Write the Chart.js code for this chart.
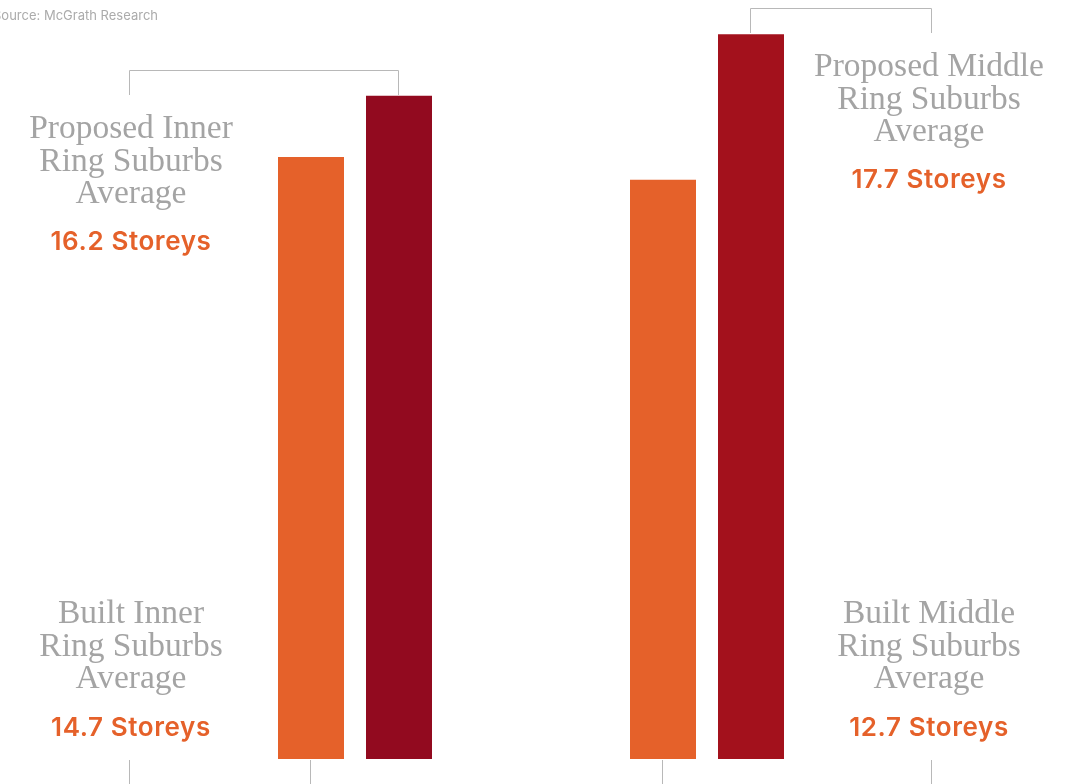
<!DOCTYPE html>
<html>
<head>
<meta charset="utf-8">
<script src="https://cdn.jsdelivr.net/npm/chart.js@4"></script>
<style>
  body { margin: 0; background: #fff; }
  #wrap { width: 1071px; height: 784px; position: relative; }
</style>
</head>
<body>
<div id="wrap"><canvas id="myChart"></canvas></div>
<script>
const categories = ['Inner Ring Suburbs', 'Middle Ring Suburbs'];

// bar heights as drawn in the picture (the middle ring built bar is drawn taller than its 12.7 label)
const builtBars = [14.7, 14.15];
const proposedBars = [16.2, 17.7];

// storey figures printed in the labels
const builtStoreys = ['14.7', '12.7'];
const proposedStoreys = ['16.2', '17.7'];

const builtTitles = [
    ['Built Inner', 'Ring Suburbs', 'Average'],
    ['Built Middle', 'Ring Suburbs', 'Average']
];
const proposedTitles = [
    ['Proposed Inner', 'Ring Suburbs', 'Average'],
    ['Proposed Middle', 'Ring Suburbs', 'Average']
];

const orange = '#e5612a';
const darkRed = '#920a1f';
const grey = '#a4a4a4';
const lineGrey = '#b8b8b8';

// where the text blocks and their bracket legs sit, per category
const textX = [131, 929];
const legX = [130, 932];

const annotations = {
    id: 'annotations',
    afterDraw(chart) {
        const ctx = chart.ctx;
        const built = chart.getDatasetMeta(0).data;
        const proposed = chart.getDatasetMeta(1).data;

        ctx.save();
        ctx.textAlign = 'right';
        ctx.fillStyle = '#ababab';
        ctx.font = '13px Inter';
        ctx.fillText('Source: McGrath Research', 158, 20);

        for (let i = 0; i < categories.length; i++) {
            const tx = textX[i];
            const lx = legX[i] - 0.5;
            const p = proposed[i];
            const b = built[i];
            const top = Math.round(p.y);

            // top bracket: label -> proposed bar
            ctx.strokeStyle = lineGrey;
            ctx.lineWidth = 1;
            ctx.beginPath();
            ctx.moveTo(lx, top - 1);
            ctx.lineTo(lx, top - 25.5);
            ctx.lineTo(Math.round(p.x) - 0.5, top - 25.5);
            ctx.lineTo(Math.round(p.x) - 0.5, top - 1);
            ctx.stroke();

            // bottom bracket stubs: label -> built bar
            const base = Math.round(b.base);
            ctx.beginPath();
            ctx.moveTo(lx, base + 1);
            ctx.lineTo(lx, 790);
            ctx.moveTo(Math.round(b.x) - 0.5, base + 1);
            ctx.lineTo(Math.round(b.x) - 0.5, 790);
            ctx.stroke();

            ctx.textAlign = 'center';
            ctx.letterSpacing = '0px';
            ctx.font = '33.5px "Liberation Serif"';
            ctx.fillStyle = grey;
            proposedTitles[i].forEach((t, k) => ctx.fillText(t, tx, top + 42 + k * 32.5));
            ctx.font = '600 26px Inter';
            ctx.letterSpacing = '0.6px';
            ctx.fillStyle = orange;
            ctx.fillText(proposedStoreys[i] + ' Storeys', tx, top + 154);

            ctx.letterSpacing = '0px';
            ctx.font = '33.5px "Liberation Serif"';
            ctx.fillStyle = grey;
            builtTitles[i].forEach((t, k) => ctx.fillText(t, tx, 623 + k * 32.5));
            ctx.font = '600 26px Inter';
            ctx.letterSpacing = '0.6px';
            ctx.fillStyle = orange;
            ctx.fillText(builtStoreys[i] + ' Storeys', tx, 736);
        }
        ctx.restore();
    }
};

const data = {
    labels: categories,
    datasets: [
        {
            label: 'Built',
            data: builtBars,
            backgroundColor: orange,
            categoryPercentage: 0.5,
            barPercentage: 0.75
        },
        {
            label: 'Proposed',
            data: proposedBars,
            backgroundColor: [darkRed, '#a3111c'],
            categoryPercentage: 0.5,
            barPercentage: 0.75
        }
    ]
};

const config = {
    type: 'bar',
    data: data,
    options: {
        responsive: true,
        maintainAspectRatio: false,
        animation: false,
        layout: {
            padding: { left: 179, right: 188, top: 22, bottom: 25 }
        },
        scales: {
            x: { display: false },
            y: { display: false, min: 0, max: 18 }
        },
        plugins: {
            legend: { display: false },
            tooltip: { enabled: false }
        }
    },
    plugins: [annotations]
};

const myChart = new Chart(document.querySelector('#myChart'), config);
</script>
</body>
</html>
